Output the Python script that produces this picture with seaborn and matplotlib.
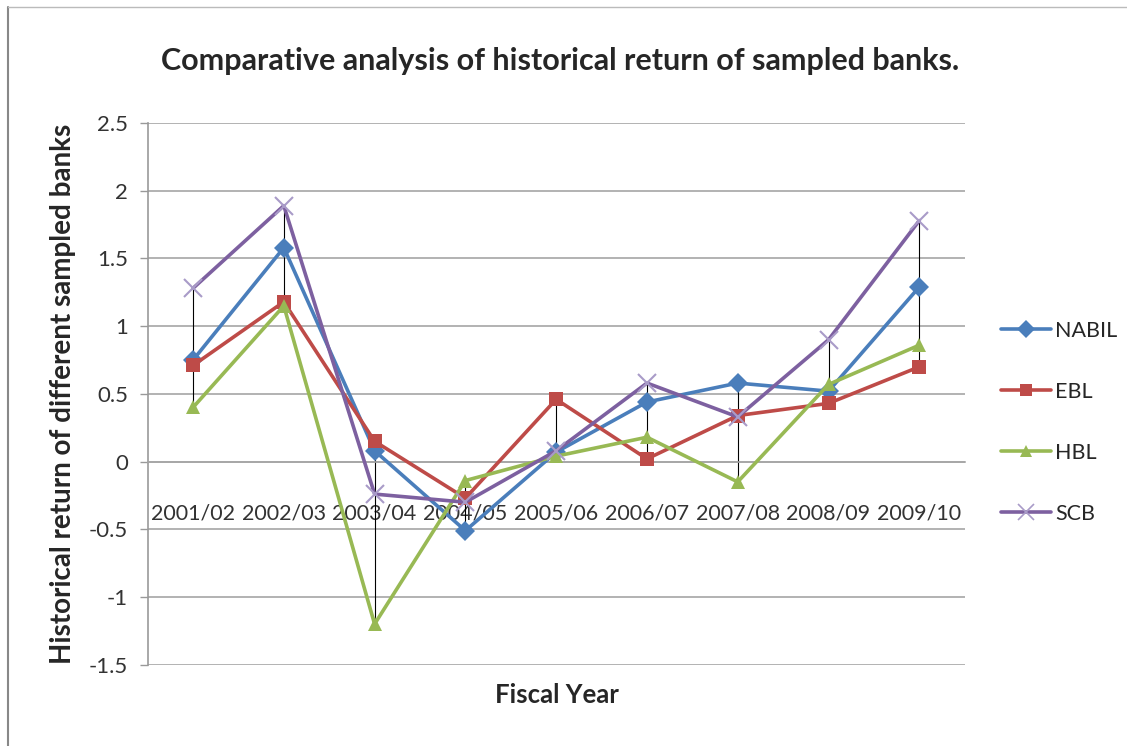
import matplotlib
matplotlib.use("Agg")
import matplotlib.pyplot as plt
from matplotlib.lines import Line2D
import seaborn as sns
import pandas as pd
import numpy as np

years = ["2001/02", "2002/03", "2003/04", "2004/05", "2005/06",
         "2006/07", "2007/08", "2008/09", "2009/10"]
nabil = [0.75, 1.58, 0.08, -0.51, 0.07, 0.44, 0.58, 0.52, 1.29]
ebl = [0.71, 1.18, 0.15, -0.27, 0.46, 0.02, 0.34, 0.43, 0.70]
hbl = [0.40, 1.15, -1.20, -0.14, 0.04, 0.18, -0.15, 0.57, 0.86]
scb = [1.28, 1.89, -0.24, -0.30, 0.08, 0.58, 0.33, 0.90, 1.78]

banks = ["NABIL", "EBL", "HBL", "SCB"]
colores = {"NABIL": "#4A7EBB", "EBL": "#BE4B48", "HBL": "#98B954", "SCB": "#7D60A0"}
marcadores = {"NABIL": "D", "EBL": "s", "HBL": "^", "SCB": "x"}
series = {"NABIL": nabil, "EBL": ebl, "HBL": hbl, "SCB": scb}

sns.set_style("white")
plt.rcParams["font.family"] = ["Lato", "DejaVu Sans"]

fig = plt.figure(figsize=(11.27, 7.46), dpi=100)
ax = fig.add_axes([0.131, 0.109, 0.725, 0.726])

# high-low lines (Excel style)
tabla = np.array([nabil, ebl, hbl, scb])
ax.vlines(range(len(years)), tabla.min(axis=0), tabla.max(axis=0),
          color="black", lw=0.8, zorder=1)

for b in banks:
    df = pd.DataFrame({"pos": range(len(years)), "value": series[b]})
    if marcadores[b] == "x":
        extra = dict(markersize=13, markeredgewidth=1.5, markeredgecolor="#A99BC8")
    else:
        extra = dict(markersize=10, markeredgewidth=0)
    sns.lineplot(data=df, x="pos", y="value", color=colores[b],
                 marker=marcadores[b], lw=2.6, ax=ax, zorder=3, **extra)

ax.set_xlim(-0.5, len(years) - 0.5)
ax.set_ylim(-1.5, 2.5)
ax.set_yticks(np.arange(-1.5, 2.51, 0.5))
ax.set_yticklabels(["-1.5", "-1", "-0.5", "0", "0.5", "1", "1.5", "2", "2.5"],
                   fontsize=16, color="#333333")
ax.tick_params(axis="y", length=6, color="#999999", width=1, left=True, pad=8)
ax.yaxis.grid(True, color="#A6A6A6", lw=1.2)
ax.set_axisbelow(True)

for s in ["top", "right"]:
    ax.spines[s].set_visible(False)
ax.spines["left"].set_color("#999999")
ax.spines["left"].set_linewidth(1.2)
ax.spines["bottom"].set_position(("data", 0))
ax.spines["bottom"].set_color("#A6A6A6")
ax.spines["bottom"].set_linewidth(1.2)

ax.set_xticks(range(len(years)))
ax.set_xticklabels(years, fontsize=15.5, color="#333333")
ax.tick_params(axis="x", length=0, pad=30)

ax.set_xlabel("")
ax.set_ylabel("Historical return of different sampled banks",
              fontsize=20, fontweight="bold")
ax.yaxis.set_label_coords(-0.088, 0.5)
fig.text(0.494, 0.068, "Fiscal Year", fontsize=18.5, fontweight="bold",
         ha="center", va="center")
fig.text(0.497, 0.918, "Comparative analysis of historical return of sampled banks.",
         fontsize=22, fontweight="bold", ha="center", va="center")

manejadores = [Line2D([0], [0], color=colores[b], marker=marcadores[b], lw=2.6,
                      markersize=9 if b != "SCB" else 11,
                      markeredgewidth=0 if b != "SCB" else 1.2,
                      markeredgecolor=colores[b] if b != "SCB" else "#A99BC8")
               for b in banks]
fig.legend(manejadores, banks, loc="center left", bbox_to_anchor=(0.871, 0.434),
           frameon=False, fontsize=15.5, labelspacing=1.9, handlelength=2.3,
           handletextpad=0.2)

# chart border
fig.add_artist(Line2D([0.007, 0.007], [0, 0.99], color="#888888", lw=1.5))
fig.add_artist(Line2D([0.007, 1], [0.99, 0.99], color="#BBBBBB", lw=1.0))

fig.savefig("out.png", dpi=100, facecolor="white")
